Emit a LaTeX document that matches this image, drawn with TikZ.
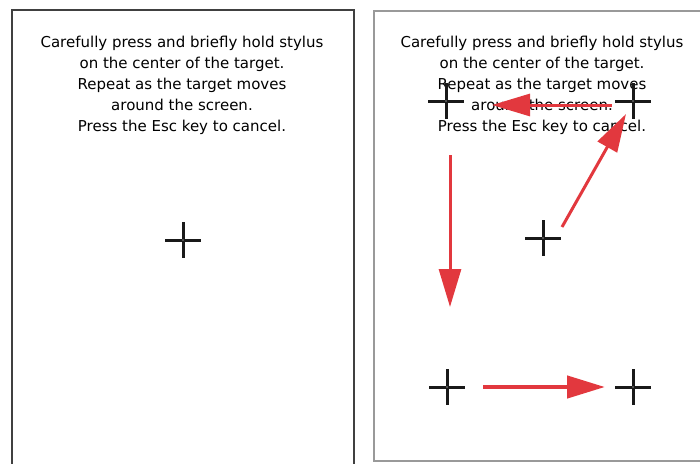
\documentclass[tikz,border=0pt]{standalone}
\usepackage{fontspec}
\setmainfont{DejaVu Sans}
\usetikzlibrary{arrows.meta}
\definecolor{arrowred}{RGB}{226,56,62}

\begin{document}
\begin{tikzpicture}[x=1pt,y=-1pt]
  \tikzstyle{target}=[minimum size=36pt,inner sep=0pt,
    path picture={\draw[line width=3pt,black!90]
      (path picture bounding box.west) -- (path picture bounding box.east)
      (path picture bounding box.north) -- (path picture bounding box.south);
      \fill[white] (path picture bounding box.center) circle (0.7pt);}]
  \tikzstyle{msg}=[align=center,inner sep=0pt,text=black,
    font=\fontsize{15}{21}\selectfont]
  \tikzstyle{move}=[draw=arrowred,line width=3pt,
    -{Triangle[length=38pt,width=22pt,fill=arrowred]}]

  \useasboundingbox (0,0) rectangle (700,463);
  \clip (0,0) rectangle (700,463);

  % the two screens
  \draw[black!75,line width=1.2pt] (12,470) -- (12,10) -- (354,10) -- (354,470);
  \draw[black!40,line width=1.2pt] (710,461) -- (374,461) -- (374,11) -- (710,11);

  \node[msg] (msg-L) at (182,85) {Carefully press and briefly hold stylus\\on the center of the target.\\Repeat as the target moves\\around the screen.\\Press the Esc key to cancel.};
  \node[msg] (msg-R) at (542,85) {Carefully press and briefly hold stylus\\on the center of the target.\\Repeat as the target moves\\around the screen.\\Press the Esc key to cancel.};

  \foreach \name/\x/\y in {T-0/183/240, T-1/543/238, T-2/633/101, T-3/446/101, T-4/447/387, T-5/633/387}
    \node[target] (\name) at (\x,\y) {};

  \foreach \name/\x/\y in {s-1/562/227, e-1/626/114, s-2/612/105, e-2/492/105,
                           s-3/450/155, e-3/450/307, s-4/483/387, e-4/605/387}
    \coordinate (\name) at (\x,\y);

  \foreach \i in {1,2,3}
    { \draw[move] (s-\i) -- (e-\i); }
  \draw[move,line width=4.5pt] (s-4) -- (e-4);
\end{tikzpicture}
\end{document}
